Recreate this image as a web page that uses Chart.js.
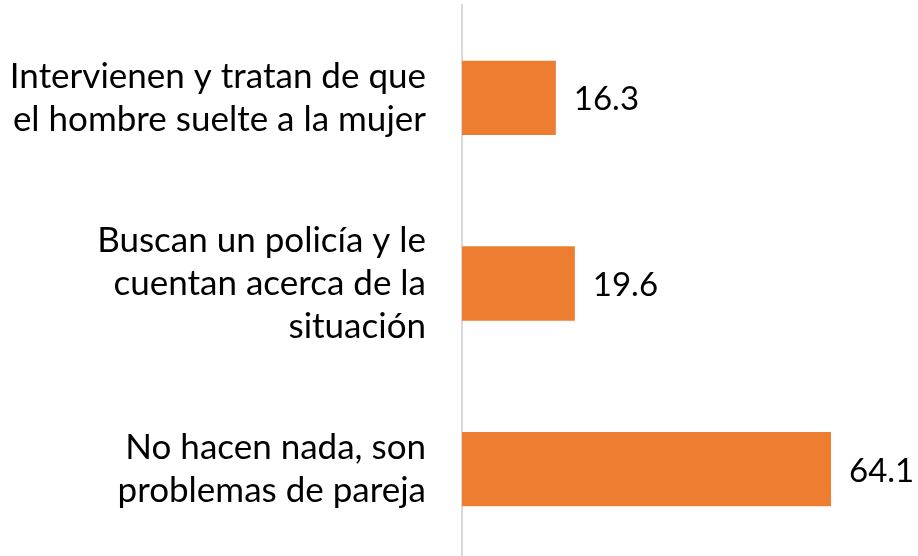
<!DOCTYPE html>
<html><head><meta charset="utf-8">
<script src="https://cdn.jsdelivr.net/npm/chart.js@4/dist/chart.umd.min.js"></script>
<style>html,body{margin:0;padding:0;overflow:hidden;background:#fff;width:918px;height:556px}#w{width:918px;height:562px;position:relative}</style>
</head><body><div id="w"><canvas id="c"></canvas></div>
<script>
const categories = [
  ["Intervienen y tratan de que", "el hombre suelte a la mujer"],
  ["Buscan un policía y le", "cuentan acerca de la", "situación"],
  ["No hacen nada, son", "problemas de pareja"]
];
const values = [16.3, 19.6, 64.1];
const valueLabels = ["16.3", "19.6", "64.1"];
const FONT = "Lato, 'Open Sans', sans-serif";

const dataLabels = {
  id: 'dataLabels',
  afterDatasetsDraw(chart) {
    const ctx = chart.ctx;
    const meta = chart.getDatasetMeta(0);
    ctx.save();
    ctx.font = "33px " + FONT;
    ctx.fillStyle = "#000";
    ctx.textAlign = "left";
    ctx.textBaseline = "middle";
    meta.data.forEach((bar, i) => {
      ctx.fillText(valueLabels[i], bar.x + 18, bar.y + 2);
    });
    ctx.restore();
  }
};

new Chart(document.getElementById('c'), {
  type: 'bar',
  data: {
    labels: categories,
    datasets: [{ data: values, backgroundColor: '#ED7D31', borderWidth: 0,
      barPercentage: 0.4, categoryPercentage: 1.0 }]
  },
  options: {
    indexAxis: 'y',
    responsive: true,
    maintainAspectRatio: false,
    animation: false,
    layout: { padding: { top: 5, right: 53, bottom: 0, left: 0 } },
    plugins: { legend: { display: false }, tooltip: { enabled: false } },
    scales: {
      x: { min: 0, max: 70, display: false },
      y: {
        grid: { display: false, drawTicks: false },
        border: { display: true, color: '#d9d9d9', width: 2 },
        ticks: { color: '#000', font: { size: 35, family: FONT, lineHeight: 1.23 }, padding: 36 },
        afterFit(s) { s.width = 462; s.paddingTop = 0; s.paddingBottom = 0; }
      }
    }
  },
  plugins: [dataLabels]
});
</script></body></html>
